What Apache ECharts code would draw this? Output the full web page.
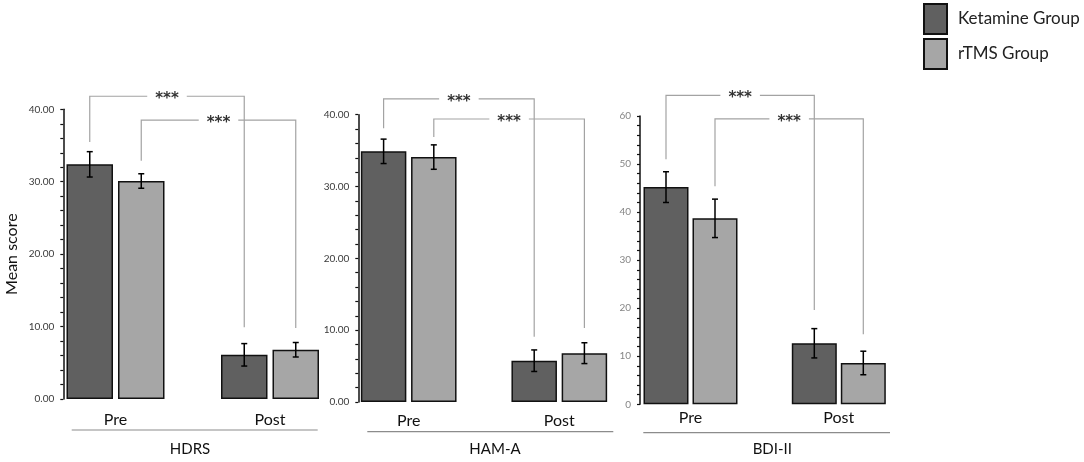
<!DOCTYPE html>
<html>
<head>
<meta charset="utf-8">
<script src="https://cdn.jsdelivr.net/npm/echarts@6/dist/echarts.min.js"></script>
<style>
html,body{margin:0;padding:0;background:#fff;}
#chart{width:1084px;height:462px;}
</style>
</head>
<body>
<div id="chart"></div>
<script>
// ---- data ----
const categories = ['Pre', 'Post'];
const groupNames = ['Ketamine Group', 'rTMS Group'];
const scaleNames = ['HDRS', 'HAM-A', 'BDI-II'];
const yMax = [40, 40, 60];
const yInterval = [10, 10, 10];

const hdrsKetamine = [32.4, 6.1];
const hdrsKetamineErr = [1.75, 1.55];
const hdrsRtms = [30.1, 6.8];
const hdrsRtmsErr = [1.0, 1.0];

const hamaKetamine = [34.9, 5.75];
const hamaKetamineErr = [1.7, 1.5];
const hamaRtms = [34.1, 6.8];
const hamaRtmsErr = [1.7, 1.45];

const bdiKetamine = [45.2, 12.7];
const bdiKetamineErr = [3.2, 3.05];
const bdiRtms = [38.7, 8.6];
const bdiRtmsErr = [4.0, 2.45];

// significance brackets: [group index, pre-end value, top value, post-end value]
const hdrsBrackets = [[0, 35.5, 41.8, 9.9], [1, 32.9, 38.5, 9.8]];
const hamaBrackets = [[0, 38.1, 42.2, 9.1], [1, 36.9, 39.4, 10.3]];
const bdiBrackets = [[0, 51.0, 64.3, 19.6], [1, 45.4, 59.4, 14.6]];
const sigLabel = '***';

// ---- layout ----
const panels = [
  {left: 115.5, width: 154.5, top: 109.3, bottom: 399, axisX: 63.3, labelColor: '#3a3a3a', dec: 2, catMargin: 13,
   under: [71.7, 317.7, 430], title: [190, 449], barWidth: 46.5, gap: 5},
  {left: 408.7, width: 150.6, top: 114.7, bottom: 402, axisX: 358.3, labelColor: '#3a3a3a', dec: 2, catMargin: 11,
   under: [367.3, 613.3, 431.7], title: [495, 449], barWidth: 45.5, gap: 4.7},
  {left: 690.5, width: 148.3, top: 116, bottom: 404.3, axisX: 640, labelColor: '#858585', dec: 0, catMargin: 6,
   under: [643.3, 890, 432.7], title: [772.3, 449], barWidth: 45, gap: 4}
];
const values = [[hdrsKetamine, hdrsRtms], [hamaKetamine, hamaRtms], [bdiKetamine, bdiRtms]];
const errors = [[hdrsKetamineErr, hdrsRtmsErr], [hamaKetamineErr, hamaRtmsErr], [bdiKetamineErr, bdiRtmsErr]];
const brackets = [hdrsBrackets, hamaBrackets, bdiBrackets];
const colors = ['#606060', '#a6a6a6'];
const FONT = 'Lato, "Open Sans", sans-serif';

const grid = [], xAxis = [], yAxis = [], series = [], graphic = [];

panels.forEach((p, i) => {
  grid.push({left: p.left, width: p.width, top: p.top, height: p.bottom - p.top});
  xAxis.push({
    type: 'category', gridIndex: i, data: categories, boundaryGap: false,
    axisLine: {show: false}, axisTick: {show: false}, splitLine: {show: false},
    axisLabel: {fontSize: 16, color: '#111', fontFamily: FONT, margin: p.catMargin}
  });
  yAxis.push({
    type: 'value', gridIndex: i, min: 0, max: yMax[i], interval: yInterval[i],
    offset: p.left - p.axisX,
    name: i === 0 ? 'Mean score' : '',
    nameLocation: 'middle', nameGap: 43, nameRotate: 90,
    nameTextStyle: {fontSize: 16, color: '#111', fontFamily: FONT},
    axisLine: {show: true, lineStyle: {color: '#111', width: 1.5}},
    axisTick: {show: true, length: 3, lineStyle: {color: '#111', width: 1.2}},
    minorTick: {show: true, splitNumber: 5, length: 3, lineStyle: {color: '#111', width: 1.2}},
    splitLine: {show: false},
    axisLabel: {fontSize: 10, color: p.labelColor, margin: 9, fontFamily: FONT,
      formatter: v => v.toFixed(p.dec)}
  });
  const sign = [-1, 1];
  for (let g = 0; g < 2; g++) {
    series.push({
      type: 'bar', name: groupNames[g], xAxisIndex: i, yAxisIndex: i,
      data: values[i][g], barWidth: p.barWidth, barGap: (p.gap / p.barWidth * 100) + '%',
      itemStyle: {color: colors[g], borderColor: '#111', borderWidth: 1.5},
      emphasis: {disabled: true}, z: 2
    });
    // error bars
    const off = sign[g] * (p.barWidth / 2 + p.gap / 2);
    series.push({
      type: 'custom', xAxisIndex: i, yAxisIndex: i, z: 5,
      data: values[i][g].map((v, c) => [c, v, errors[i][g][c]]),
      encode: {x: 0, y: 1},
      renderItem: (params, api) => {
        const c = api.value(0), m = api.value(1), e = api.value(2);
        const hi = api.coord([c, m + e]), lo = api.coord([c, m - e]);
        const x = hi[0] + off, cap = 3;
        const st = {stroke: '#000', lineWidth: 1.5};
        return {type: 'group', children: [
          {type: 'line', shape: {x1: x, y1: hi[1], x2: x, y2: lo[1]}, style: st},
          {type: 'line', shape: {x1: x - cap, y1: hi[1], x2: x + cap, y2: hi[1]}, style: st},
          {type: 'line', shape: {x1: x - cap, y1: lo[1], x2: x + cap, y2: lo[1]}, style: st}
        ]};
      }
    });
  }
  // significance brackets
  series.push({
    type: 'custom', xAxisIndex: i, yAxisIndex: i, z: 6, clip: false,
    data: brackets[i],
    encode: {y: 2},
    renderItem: (params, api) => {
      const g = api.value(0);
      const off = sign[g] * (p.barWidth / 2 + p.gap / 2);
      const a = api.coord([0, api.value(1)]);
      const t0 = api.coord([0, api.value(2)]);
      const t1 = api.coord([1, api.value(2)]);
      const b = api.coord([1, api.value(3)]);
      const x0 = a[0] + off, x1 = b[0] + off;
      return {type: 'group', children: [
        {type: 'polyline', shape: {points: [[x0, a[1]], [x0, t0[1]], [x1, t1[1]], [x1, b[1]]]},
         style: {stroke: '#a3a3a3', lineWidth: 1.2, fill: null}},
        {type: 'text', x: (x0 + x1) / 2, y: t0[1] + 3, z2: 10,
         style: {text: sigLabel, fill: '#333', font: 'bold 15px "DejaVu Sans"', align: 'center',
                 verticalAlign: 'middle', backgroundColor: '#fff', padding: [0, 8]}}
      ]};
    }
  });
  graphic.push({type: 'line', shape: {x1: p.under[0], y1: p.under[2], x2: p.under[1], y2: p.under[2]},
    style: {stroke: '#8c8c8c', lineWidth: 1.2}});
  graphic.push({type: 'text', x: p.title[0], y: p.title[1],
    style: {text: scaleNames[i], fill: '#111', font: '15px ' + FONT, align: 'center', verticalAlign: 'middle'}});
});

const chart = echarts.init(document.getElementById('chart'), null, {renderer: 'canvas'});
chart.setOption({
  animation: false,
  backgroundColor: '#fff',
  grid, xAxis, yAxis, series, graphic,
  legend: {
    data: groupNames, orient: 'vertical', left: 923, top: 3, padding: 0,
    itemWidth: 23, itemHeight: 30, itemGap: 3, icon: 'rect',
    textStyle: {fontSize: 17, color: '#222', fontFamily: FONT, padding: [0, 0, 0, 6]}
  }
});
</script>
</body>
</html>
